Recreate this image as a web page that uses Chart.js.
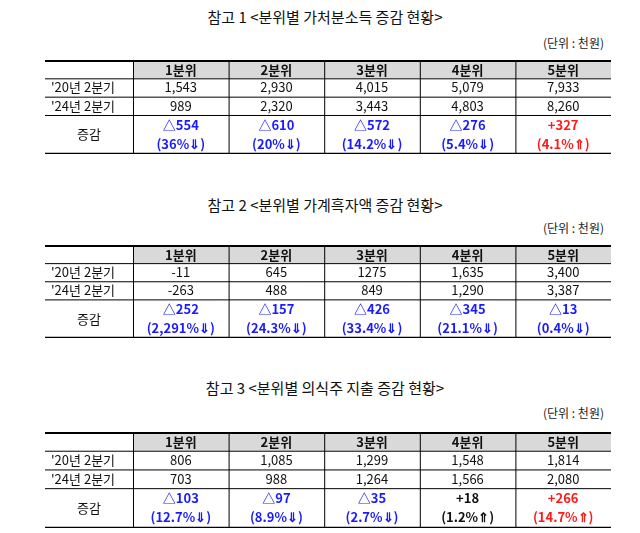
<!DOCTYPE html>
<html><head><meta charset="utf-8">
<script src="https://cdn.jsdelivr.net/npm/chart.js@4"></script>
<style>
body{margin:0;background:#fff;font-family:"Noto Sans CJK KR","Noto Sans",sans-serif;width:640px;height:533px;position:relative;overflow:hidden}
.t{position:absolute;left:0;width:650px;text-align:center;font-size:15px;color:#111}
.u{position:absolute;right:36px;font-size:12px;color:#222}
.c{position:absolute;left:45px;width:566px}
</style></head><body>
<div class="t" style="top:6px">참고 1 &lt;분위별 가처분소득 증감 현황&gt;</div>
<div class="u" style="top:34px">(단위 : 천원)</div>
<div class="c" style="top:60px;height:94px"><canvas id="c1"></canvas></div>
<div class="t" style="top:194px">참고 2 &lt;분위별 가계흑자액 증감 현황&gt;</div>
<div class="u" style="top:219px">(단위 : 천원)</div>
<div class="c" style="top:245px;height:93px"><canvas id="c2"></canvas></div>
<div class="t" style="top:377px">참고 3 &lt;분위별 의식주 지출 증감 현황&gt;</div>
<div class="u" style="top:404px">(단위 : 천원)</div>
<div class="c" style="top:432px;height:96px"><canvas id="c3"></canvas></div>
<script>
const quintiles=["1분위","2분위","3분위","4분위","5분위"];
const rowLabels=["'20년 2분기","'24년 2분기","증감"];
const t1_2020=["1,543","2,930","4,015","5,079","7,933"];
const t1_2024=["989","2,320","3,443","4,803","8,260"];
const t1_diff=["△554","△610","△572","△276","+327"];
const t1_pct=["(36%⇓)","(20%⇓)","(14.2%⇓)","(5.4%⇓)","(4.1%⇑)"];
const t1_col=["b","b","b","b","r"];
const t2_2020=["-11","645","1275","1,635","3,400"];
const t2_2024=["-263","488","849","1,290","3,387"];
const t2_diff=["△252","△157","△426","△345","△13"];
const t2_pct=["(2,291%⇓)","(24.3%⇓)","(33.4%⇓)","(21.1%⇓)","(0.4%⇓)"];
const t2_col=["b","b","b","b","b"];
const t3_2020=["806","1,085","1,299","1,548","1,814"];
const t3_2024=["703","988","1,264","1,566","2,080"];
const t3_diff=["△103","△97","△35","+18","+266"];
const t3_pct=["(12.7%⇓)","(8.9%⇓)","(2.7%⇓)","(1.2%⇑)","(14.7%⇑)"];
const t3_col=["b","b","b","k","r"];
const COL={b:"#1a1aff",r:"#ff1a1a",k:"#111"};
const F='"Noto Sans CJK KR","Noto Sans",sans-serif';
function make(id,r20,r24,diff,pct,col){
 const plugin={id:'tbl',afterDraw(ch){
  const c=ch.ctx,a=ch.chartArea,W=a.right-a.left,H=a.bottom-a.top;
  const fw=88/566*W,cw=(W-fw)/5;
  const xs=[a.left,a.left+fw];for(let i=1;i<=5;i++)xs.push(a.left+fw+cw*i);
  const rh=H*0.195;const ys=[a.top,a.top+rh,a.top+2*rh,a.top+3*rh,a.bottom];
  c.save();
  c.fillStyle="#d9d9d9";c.fillRect(xs[1],ys[0],xs[6]-xs[1],rh);
  c.strokeStyle="#000";c.lineWidth=1;
  for(let i=1;i<4;i++){c.beginPath();c.moveTo(a.left,ys[i]+.5);c.lineTo(a.right,ys[i]+.5);c.stroke();}
  for(let i=1;i<6;i++){c.beginPath();c.moveTo(xs[i]+.5,ys[0]);c.lineTo(xs[i]+.5,ys[4]);c.stroke();}
  c.lineWidth=2;c.beginPath();c.moveTo(a.left,ys[0]+1);c.lineTo(a.right,ys[0]+1);c.stroke();
  c.lineWidth=1.5;c.beginPath();c.moveTo(a.left,ys[4]-.5);c.lineTo(a.right,ys[4]-.5);c.stroke();
  c.textBaseline="middle";c.textAlign="center";
  const cx=i=>(xs[i+1]+xs[i+2])/2;
  c.fillStyle="#111";c.font="bold 13px "+F;
  quintiles.forEach((q,i)=>c.fillText(q,cx(i),(ys[0]+ys[1])/2+1));
  c.font="13px "+F;
  c.textAlign="left";c.fillText(rowLabels[0],a.left+6,(ys[1]+ys[2])/2);c.fillText(rowLabels[1],a.left+6,(ys[2]+ys[3])/2);
  c.textAlign="center";c.fillText(rowLabels[2],(xs[0]+xs[1])/2,(ys[3]+ys[4])/2);
  r20.forEach((v,i)=>c.fillText(v,cx(i),(ys[1]+ys[2])/2));
  r24.forEach((v,i)=>c.fillText(v,cx(i),(ys[2]+ys[3])/2));
  c.font="bold 13px "+F;
  diff.forEach((v,i)=>{c.fillStyle=COL[col[i]];c.fillText(v,cx(i),ys[3]+10);c.fillText(pct[i],cx(i),ys[3]+29);});
  c.restore();}};
 new Chart(document.getElementById(id),{type:'bar',data:{labels:quintiles,datasets:[{data:[]}]},
  options:{responsive:true,maintainAspectRatio:false,animation:false,layout:{padding:0},
   plugins:{legend:{display:false},tooltip:{enabled:false}},
   scales:{x:{display:false},y:{display:false}}},plugins:[plugin]});
}
make('c1',t1_2020,t1_2024,t1_diff,t1_pct,t1_col);
make('c2',t2_2020,t2_2024,t2_diff,t2_pct,t2_col);
make('c3',t3_2020,t3_2024,t3_diff,t3_pct,t3_col);
</script></body></html>
